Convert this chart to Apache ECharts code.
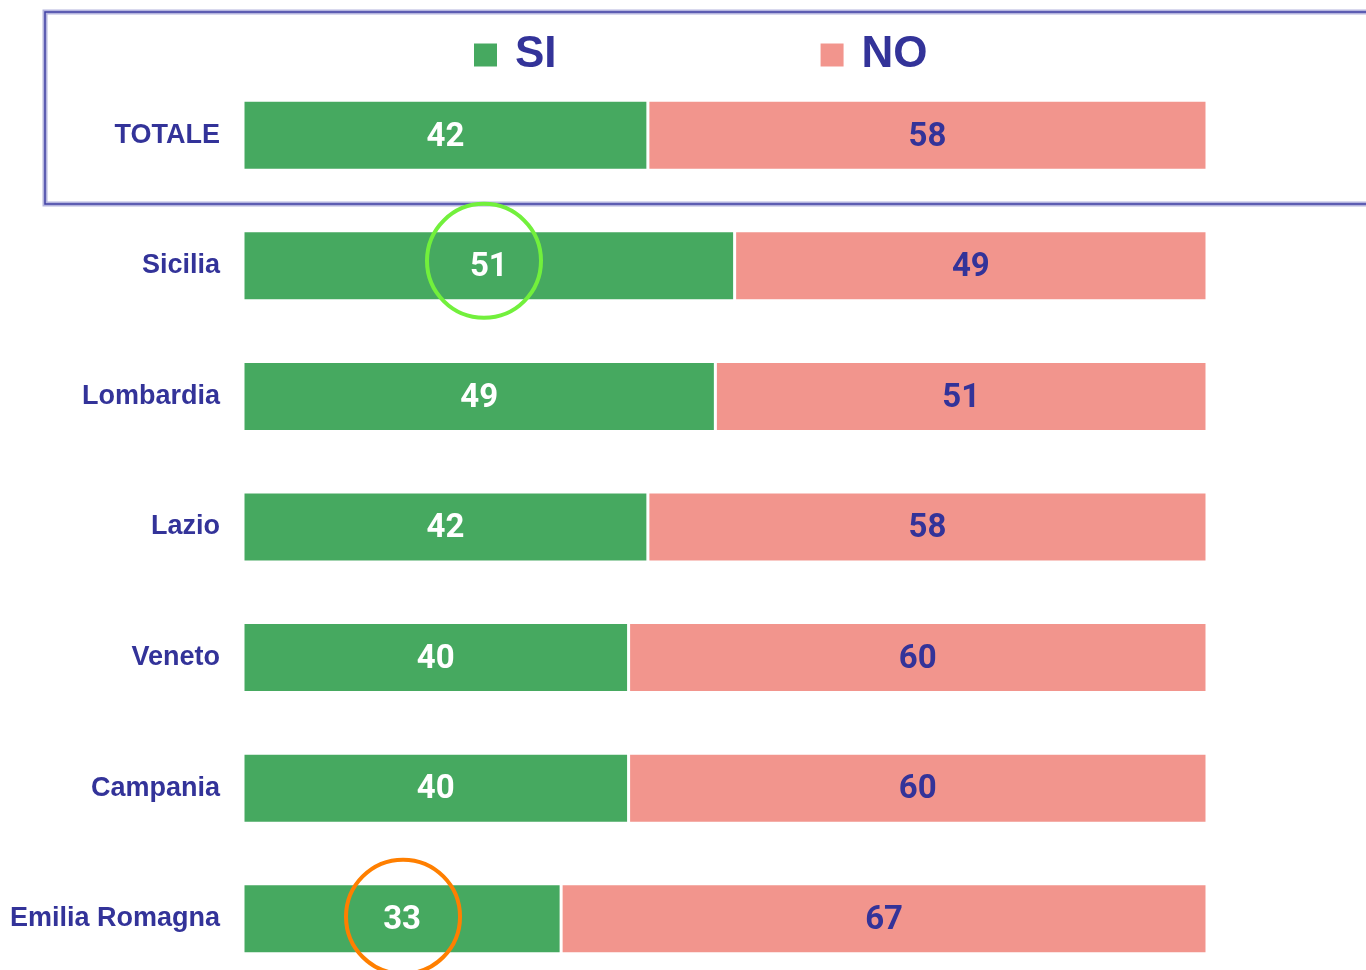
<!DOCTYPE html>
<html>
<head>
<meta charset="utf-8">
<script src="https://cdn.jsdelivr.net/npm/echarts@6/dist/echarts.min.js"></script>
<style>
  html, body { margin: 0; padding: 0; background: #fff; }
  #chart { width: 1366px; height: 970px; }
</style>
</head>
<body>
<div id="chart"></div>
<script>
const regions = ['TOTALE', 'Sicilia', 'Lombardia', 'Lazio', 'Veneto', 'Campania', 'Emilia Romagna']
const siValues = [42, 51, 49, 42, 40, 40, 33]
const noValues = [58, 49, 51, 58, 60, 60, 67]

const navy = '#333399'
const chart = echarts.init(document.getElementById('chart'))

chart.setOption({
  animation: false,
  backgroundColor: '#fff',
  legend: {
    data: ['SI', 'NO'],
    left: 467,
    top: 28,
    itemWidth: 25,
    itemHeight: 25,
    itemGap: 262,
    icon: 'rect',
    textStyle: { color: navy, fontSize: 44, fontWeight: 'bold', fontFamily: 'Liberation Sans, Arial', padding: [0, 0, 0, 12] }
  },
  grid: { left: 243, right: 159, top: 70, height: 914, outerBoundsMode: 'none' },
  xAxis: { type: 'value', min: 0, max: 100, show: false },
  yAxis: {
    type: 'category',
    data: regions,
    inverse: true,
    axisLine: { show: false },
    axisTick: { show: false },
    axisLabel: { margin: 23, color: navy, fontSize: 27, fontWeight: 'bold', fontFamily: 'Liberation Sans, Arial' }
  },
  graphic: [
    { type: 'rect', shape: { x: 45, y: 12, width: 1400, height: 192 }, style: { fill: 'none', stroke: '#b4b4de', lineWidth: 5 }, z: 0 },
    { type: 'rect', shape: { x: 45, y: 12, width: 1400, height: 192 }, style: { fill: 'none', stroke: '#4040a4', lineWidth: 1.5 }, z: 1 }
  ],
  series: [
    {
      name: 'SI',
      type: 'bar',
      stack: 'tot',
      barWidth: 70,
      data: siValues,
      itemStyle: { color: '#46a960', borderColor: '#fff', borderWidth: 1.5 },
      label: { show: true, position: 'inside', offset: [0, 2], color: '#fff', fontSize: 33, fontWeight: 'bold', fontFamily: 'Roboto' },
      markPoint: {
        symbol: 'circle',
        symbolSize: 114,
        label: { show: false },
        silent: true,
        data: [
          { coord: [25, 'Sicilia'], symbolOffset: [0, -5], itemStyle: { color: 'transparent', borderColor: '#72f03c', borderWidth: 4 } },
          { coord: [16.6, 'Emilia Romagna'], symbolOffset: [0, -2], itemStyle: { color: 'transparent', borderColor: '#ff7f00', borderWidth: 4 } }
        ]
      }
    },
    {
      name: 'NO',
      type: 'bar',
      stack: 'tot',
      barWidth: 70,
      data: noValues,
      itemStyle: { color: '#f2958d', borderColor: '#fff', borderWidth: 1.5 },
      label: { show: true, position: 'inside', offset: [0, 2], color: navy, fontSize: 33, fontWeight: 'bold', fontFamily: 'Roboto' }
    }
  ]
})
</script>
</body>
</html>
